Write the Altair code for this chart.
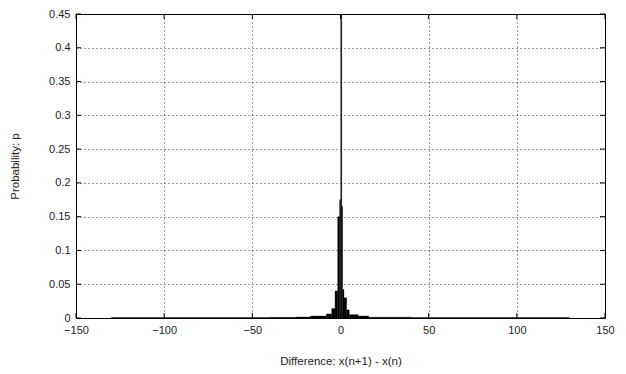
import altair as alt
import pandas as pd

# histogram bins (left edge, right edge, probability)
bin_left = [-130, -40, -25, -17, -8, -5, -3.1, -1.6, -0.5, 0.1, 0.7, 1.2, 2.0, 3.5, 5, 10, 16, 40]
bin_right = [-40, -25, -17, -8, -5, -3.1, -1.6, -0.5, 0.1, 0.7, 1.2, 2.0, 3.5, 5, 10, 16, 40, 130]
prob = [0.0006, 0.001, 0.0015, 0.003, 0.006, 0.014, 0.04, 0.15, 0.175, 0.45, 0.165, 0.042, 0.03, 0.012, 0.005, 0.003, 0.0012, 0.0006]

x_ticks = [-150, -100, -50, 0, 50, 100, 150]
y_ticks = [0, 0.05, 0.1, 0.15, 0.2, 0.25, 0.3, 0.35, 0.4, 0.45]

W, H = 529, 304
FONT = "Liberation Sans"

df = pd.DataFrame({"left": bin_left, "right": bin_right, "p": prob})
xt = pd.DataFrame({"t": x_ticks})
yt = pd.DataFrame({"t": y_ticks})

xscale = alt.Scale(domain=[-150, 150], nice=False, zero=False)
yscale = alt.Scale(domain=[0, 0.45], nice=False)

common = dict(grid=True, gridDash=[1, 3], gridColor="black", gridOpacity=0.8,
              ticks=False, domain=False, labelPadding=6, labelOverlap=False,
              tickCount=30,
              labelFontSize=11, titleFontSize=11.5, labelFont=FONT, titleFont=FONT,
              titleFontWeight="normal", labelColor="#222", titleColor="#222",
              labelFlush=False)

bars = alt.Chart(df).mark_rect(color="black", stroke="black", strokeWidth=0.3).encode(
    x=alt.X("left:Q", scale=xscale,
            axis=alt.Axis(values=x_ticks, title="Difference: x(n+1) - x(n)", format="d",
                          titlePadding=20, **common)),
    x2="right:Q",
    y=alt.Y("p:Q", scale=yscale,
            axis=alt.Axis(values=y_ticks, title="Probability: p", format="~r",
                          titlePadding=28, **common)),
    y2=alt.datum(0),
)

tick_color = "black"
xb = alt.Chart(xt).mark_rule(color=tick_color).encode(
    x=alt.X("t:Q", scale=xscale), y=alt.value(H), y2=alt.value(H - 5))
xtop = alt.Chart(xt).mark_rule(color=tick_color).encode(
    x=alt.X("t:Q", scale=xscale), y=alt.value(0), y2=alt.value(5))
yl = alt.Chart(yt).mark_rule(color=tick_color).encode(
    y=alt.Y("t:Q", scale=yscale), x=alt.value(0), x2=alt.value(5))
yr = alt.Chart(yt).mark_rule(color=tick_color).encode(
    y=alt.Y("t:Q", scale=yscale), x=alt.value(W), x2=alt.value(W - 5))

chart = alt.layer(bars, xb, xtop, yl, yr).properties(
    width=W, height=H,
    autosize=alt.AutoSizeParams(type="none"),
    padding={"left": 76, "top": 14, "right": 21, "bottom": 56},
    background="white",
).configure_view(stroke="black", strokeWidth=1)

chart.save("out.html", embed_options={"renderer": "svg", "actions": False})
